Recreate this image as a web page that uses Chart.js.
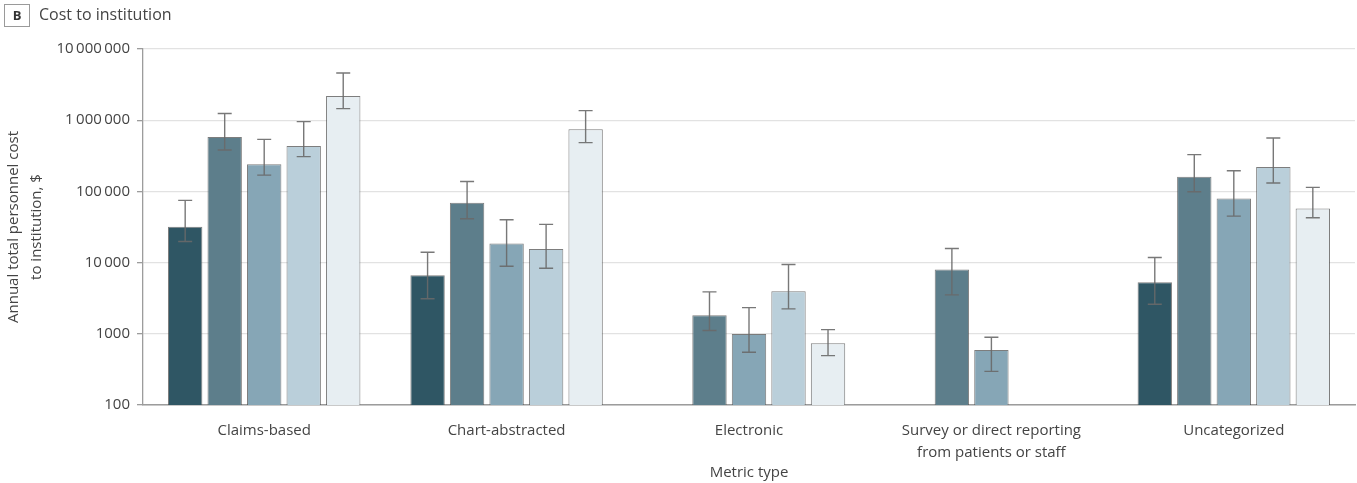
<!DOCTYPE html>
<html>
<head>
<meta charset="utf-8">
<script src="https://cdn.jsdelivr.net/npm/chart.js@4.4.1/dist/chart.umd.min.js"></script>
<style>
  html, body { margin: 0; padding: 0; background: #fff; }
  #wrap { position: relative; width: 1357px; height: 483px; font-family: "Open Sans", sans-serif; }
  #c { position: absolute; left: 0; top: 0; }
  .tag {
    position: absolute; left: 4px; top: 4px; width: 26px; height: 23px;
    border: 1px solid #9a9a9a; box-sizing: border-box;
    font-weight: 700; font-size: 13px; line-height: 21px; text-align: center; color: #333;
  }
  .ttl {
    position: absolute; left: 39px; top: 3px;
    font-size: 16px; line-height: 22px; color: #444;
  }
</style>
</head>
<body>
<div id="wrap">
  <canvas id="c" width="1357" height="483"></canvas>
  <div class="tag">B</div>
  <div class="ttl">Cost to institution</div>
</div>
<script>
// Metric types along the x axis
const categories = [
  'Claims-based',
  'Chart-abstracted',
  'Electronic',
  ['Survey or direct reporting', 'from patients or staff'],
  'Uncategorized'
];

// Y-axis decade ticks (log scale)
const tickValues = [100, 1000, 10000, 100000, 1000000, 10000000];

// Annual personnel cost per group, with lower / upper interval bounds
const group1 = [31900, 6650, null, null, 5300];
const group1Low = [19800, 3100, null, null, 2600];
const group1High = [74700, 14000, null, null, 11800];

const group2 = [580000, 69300, 1820, 8000, 161000];
const group2Low = [381000, 41300, 1110, 3520, 99000];
const group2High = [1240000, 138000, 3880, 15800, 328000];

const group3 = [240000, 18600, 990, 594, 79800];
const group3Low = [169000, 8900, 550, 297, 45000];
const group3High = [538000, 40000, 2330, 893, 195000];

const group4 = [434000, 15500, 3960, null, 220000];
const group4Low = [308000, 8340, 2240, null, 131000];
const group4High = [955000, 34400, 9400, null, 562000];

const group5 = [2190000, 745000, 735, null, 57700];
const group5Low = [1456000, 484000, 493, null, 42700];
const group5High = [4610000, 1365000, 1145, null, 114000];

const shades = ['#2f5664', '#5d7e8b', '#86a6b6', '#bacfda', '#e7eef2'];

const FONT = '"Open Sans", sans-serif';

function fmt(v) {
  const s = String(Math.round(v));
  if (s.length <= 4) return s;
  return s.replace(/\B(?=(\d{3})+(?!\d))/g, '\u2009');
}

function mkSet(label, data, low, high, i) {
  return {
    label: label,
    data: data,
    errLow: low,
    errHigh: high,
    backgroundColor: shades[i],
    borderColor: 'rgba(70,70,70,0.7)',
    borderWidth: 1,
    categoryPercentage: 0.815,
    barPercentage: 0.87
  };
}

// Whiskers for the interval bounds, drawn over the bars
const errorBars = {
  id: 'errorBars',
  afterDatasetsDraw(chart) {
    const ctx = chart.ctx;
    const y = chart.scales.y;
    ctx.save();
    ctx.strokeStyle = 'rgba(105,105,105,0.9)';
    ctx.lineWidth = 1.4;
    chart.data.datasets.forEach((ds, di) => {
      const meta = chart.getDatasetMeta(di);
      meta.data.forEach((bar, i) => {
        if (ds.data[i] == null) return;
        const x = bar.x;
        const yl = y.getPixelForValue(ds.errLow[i]);
        const yh = y.getPixelForValue(ds.errHigh[i]);
        const cap = 7;
        ctx.beginPath();
        ctx.moveTo(x, yl); ctx.lineTo(x, yh);
        ctx.moveTo(x - cap, yh); ctx.lineTo(x + cap, yh);
        ctx.moveTo(x - cap, yl); ctx.lineTo(x + cap, yl);
        ctx.stroke();
      });
    });
    ctx.restore();
  }
};

new Chart(document.getElementById('c'), {
  type: 'bar',
  data: {
    labels: categories,
    datasets: [
      mkSet('Group 1', group1, group1Low, group1High, 0),
      mkSet('Group 2', group2, group2Low, group2High, 1),
      mkSet('Group 3', group3, group3Low, group3High, 2),
      mkSet('Group 4', group4, group4Low, group4High, 3),
      mkSet('Group 5', group5, group5Low, group5High, 4)
    ]
  },
  options: {
    responsive: false,
    animation: false,
    layout: { padding: { top: 49, right: 2, bottom: 0, left: 0 } },
    plugins: {
      legend: { display: false },
      tooltip: { enabled: false }
    },
    scales: {
      x: {
        grid: { display: false },
        border: { display: true, color: '#9c9c9c', width: 1.5 },
        ticks: {
          color: '#444',
          font: { family: FONT, size: 15, lineHeight: 1.42 },
          padding: 7.5,
          maxRotation: 0,
          autoSkip: false
        },
        title: {
          display: true,
          text: 'Metric type',
          color: '#444',
          font: { family: FONT, size: 15, lineHeight: 1.4 },
          padding: { top: 0, bottom: 0 }
        },
        afterFit(scale) { scale.height = 78; }
      },
      y: {
        type: 'logarithmic',
        min: 100,
        max: 10000000,
        afterBuildTicks(scale) {
          scale.ticks = tickValues.map(v => ({ value: v, major: true }));
        },
        grid: {
          color: '#e2e2e2',
          lineWidth: 1.3,
          tickLength: 6,
          tickColor: '#9c9c9c',
          tickWidth: 1.3
        },
        border: { display: true, color: '#9c9c9c', width: 1.3 },
        ticks: {
          color: '#444',
          font: { family: FONT, size: 15 },
          padding: 7,
          callback: (v) => fmt(v)
        },
        title: {
          display: true,
          text: ['Annual total personnel cost', 'to institution, $'],
          color: '#444',
          font: { family: FONT, size: 15, lineHeight: 1.53 },
          padding: { top: 2.5, bottom: 0 }
        },
        afterFit(scale) { scale.width = 143; }
      }
    }
  },
  plugins: [errorBars]
});
</script>
</body>
</html>
